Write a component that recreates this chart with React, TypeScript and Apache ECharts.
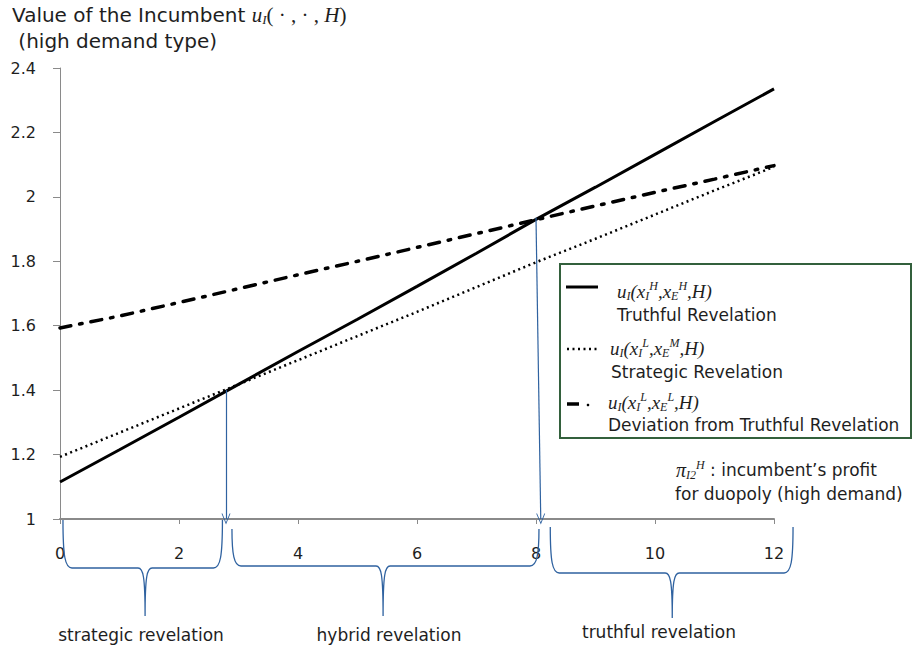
import React, { useEffect, useRef } from "react";
import * as echarts from "echarts";

// ---- data ----
const xValues = [0, 1, 2, 3, 4, 5, 6, 7, 8, 9, 10, 11, 12];
const truthful = [1.115, 1.215, 1.316, 1.418, 1.52, 1.62, 1.722, 1.825, 1.93, 2.03, 2.132, 2.234, 2.335];
const strategic = [1.193, 1.268, 1.343, 1.418, 1.493, 1.568, 1.643, 1.72, 1.797, 1.87, 1.945, 2.02, 2.093];
const deviation = [1.593, 1.63, 1.672, 1.715, 1.758, 1.8, 1.843, 1.886, 1.929, 1.972, 2.014, 2.055, 2.097];

const xTicks = { min: 0, max: 12, interval: 2 };
const yTicks = { min: 1, max: 2.4, interval: 0.2 };

// arrows: from intersection points down to the axis
const arrowTop = [[2.79, 1.4], [8.0, 1.935]];
const arrowBottom = [[2.79, 1.0], [8.08, 1.0]];

// braces below the x axis (x-range in axis units)
const braceStart = [0.05, 2.89, 8.24];
const braceEnd = [2.73, 8.05, 12.32];
const braceMid = [1.43, 5.43, 10.29];
const braceLabels = ["strategic revelation", "hybrid revelation", "truthful revelation"];

// ---- styling ----
const SANS = "'DejaVu Sans', 'Open Sans', sans-serif";
const SERIF = "'Liberation Serif', 'DejaVu Serif', serif";
const TXT = "#1e1e1e";
const AXIS = "#8a8a8a";
const BLUE = "#2f62a0";
const GREEN = "#33603c";

// pixel offsets (below axis line) for braces: top end, horizontal bar, tip
const braceTopOff = [1, 10, 8];
const braceBarOff = [49, 47, 54];
const braceTipOff = [97, 97, 99];
const braceLabelPos = [[141, 635], [389, 635], [659, 632]];

function mathRich(main: number, small: number) {
  const lh = 22;
  const slh = 11;
  return {
    m: { fontFamily: SERIF, fontStyle: "italic", fontSize: main, lineHeight: lh, fill: TXT },
    r: { fontFamily: SERIF, fontSize: main, lineHeight: lh, fill: TXT },
    sb: { fontFamily: SERIF, fontStyle: "italic", fontSize: small, lineHeight: slh, verticalAlign: "bottom", fill: TXT },
    sp: { fontFamily: SERIF, fontStyle: "italic", fontSize: small, lineHeight: slh, verticalAlign: "top", fill: TXT },
    n: { fontFamily: SANS, fontSize: 17, lineHeight: lh, fill: TXT },
    t: { fontFamily: SANS, fontSize: 20, lineHeight: lh, fill: TXT },
  };
}

function txt(x: number, y: number, text: string, size = 17, align = "left") {
  return {
    type: "text",
    x,
    y,
    silent: true,
    style: { text, fontFamily: SANS, fontSize: size, fill: TXT, align, verticalAlign: "middle" },
  };
}

function rtxt(x: number, y: number, text: string, main = 19, small = 12) {
  return {
    type: "text",
    x,
    y,
    silent: true,
    style: { text, rich: mathRich(main, small), align: "left", verticalAlign: "middle" },
  };
}

export default function App() {
  const ref = useRef<HTMLDivElement>(null);

  useEffect(() => {
    if (!ref.current) return;
    const chart = echarts.init(ref.current, null, { renderer: "svg" });

    const pts = (ys: number[]) => xValues.map((x, i) => [x, ys[i]]);
    const braceData = braceStart.map((s, i) => [s, braceEnd[i], braceMid[i]]);

    const arrowHead = "path://M5,0 L10,10 L9,10 L5,2 L1,10 L0,10 Z";

    const option: any = {
      animation: false,
      grid: { left: 60, right: 141, top: 68, bottom: 133 },
      xAxis: {
        type: "value",
        min: xTicks.min,
        max: xTicks.max,
        interval: xTicks.interval,
        axisLine: { show: true, onZero: false, lineStyle: { color: AXIS, width: 2 } },
        axisTick: { show: true, length: 5, lineStyle: { color: AXIS, width: 1 } },
        axisLabel: { margin: 26, fontSize: 16, color: TXT, fontFamily: SANS },
        splitLine: { show: false },
      },
      yAxis: {
        type: "value",
        min: yTicks.min,
        max: yTicks.max,
        interval: yTicks.interval,
        axisLine: { show: true, lineStyle: { color: AXIS, width: 1 } },
        axisTick: { show: true, length: 7, lineStyle: { color: AXIS, width: 1 } },
        axisLabel: { margin: 24, fontSize: 16, color: TXT, fontFamily: SANS },
        splitLine: { show: false },
      },
      series: [
        {
          name: "Deviation",
          type: "line",
          data: pts(deviation),
          showSymbol: false,
          symbol: "none",
          lineStyle: { color: "#000", width: 3.5, type: [11, 9, 2.5, 9], cap: "round" },
          silent: true,
          z: 3,
        },
        {
          name: "Strategic",
          type: "line",
          data: pts(strategic),
          showSymbol: false,
          symbol: "none",
          lineStyle: { color: "#000", width: 2.5, type: [2, 3.5] },
          silent: true,
          z: 3,
        },
        {
          name: "Truthful",
          type: "line",
          data: pts(truthful),
          showSymbol: false,
          symbol: "none",
          lineStyle: { color: "#000", width: 3 },
          silent: true,
          z: 4,
          markLine: {
            silent: true,
            animation: false,
            symbol: ["none", arrowHead],
            symbolSize: [9, 11],
            label: { show: false },
            emphasis: { disabled: true },
            lineStyle: { color: BLUE, width: 1.2, type: "solid" },
            data: arrowTop.map((t, i) => [{ coord: t }, { coord: arrowBottom[i] }]),
          },
        },
        {
          name: "braces",
          type: "custom",
          coordinateSystem: "cartesian2d",
          clip: false,
          silent: true,
          data: braceData,
          encode: { x: [0, 1, 2], y: -1 },
          renderItem: (params: any, api: any) => {
            const i = params.dataIndex;
            const base = api.coord([0, yTicks.min])[1];
            const x1 = api.coord([api.value(0), yTicks.min])[0];
            const x2 = api.coord([api.value(1), yTicks.min])[0];
            const xm = api.coord([api.value(2), yTicks.min])[0];
            const y0 = base + braceTopOff[i];
            const y1 = base + braceBarOff[i];
            const y2 = base + braceTipOff[i];
            const r = 9;
            const c = 7;
            const d =
              `M${x1},${y0} C${x1},${y1 - 12} ${x1 + 2},${y1} ${x1 + r},${y1} ` +
              `L${xm - c},${y1} C${xm - 2},${y1} ${xm},${y1 + 8} ${xm},${y2} ` +
              `M${xm},${y2} C${xm},${y1 + 8} ${xm + 2},${y1} ${xm + c},${y1} ` +
              `L${x2 - r},${y1} C${x2 - 2},${y1} ${x2},${y1 - 12} ${x2},${y0}`;
            return {
              type: "path",
              shape: { pathData: d },
              style: { stroke: BLUE, fill: "none", lineWidth: 1.3 },
            };
          },
          z: 2,
        },
      ],
      graphic: [
        // title
        rtxt(12, 15, "{t|Value of the Incumbent }{m|u}{sb|I}{r|( · , · , }{m|H}{r|)}", 21, 13),
        txt(12, 41, " (high demand type)", 20),
        // legend box
        {
          type: "rect",
          silent: true,
          shape: { x: 560, y: 264, width: 351, height: 174 },
          style: { fill: "#fff", stroke: GREEN, lineWidth: 2 },
          z: 10,
        },
        {
          type: "line",
          silent: true,
          z: 11,
          shape: { x1: 566, y1: 287, x2: 598, y2: 287 },
          style: { stroke: "#000", lineWidth: 3 },
        },
        {
          type: "line",
          silent: true,
          z: 11,
          shape: { x1: 567, y1: 349, x2: 597, y2: 349 },
          style: { stroke: "#000", lineWidth: 2.5, lineDash: [2, 3.5] },
        },
        {
          type: "line",
          silent: true,
          z: 11,
          shape: { x1: 567, y1: 404, x2: 579, y2: 404 },
          style: { stroke: "#000", lineWidth: 3.5 },
        },
        {
          type: "circle",
          silent: true,
          z: 11,
          shape: { cx: 588, cy: 405, r: 1.3 },
          style: { fill: "#000" },
        },
        { ...rtxt(617, 291, "{m|u}{sb|I}{m|(x}{sb|I}{sp|H}{m|,x}{sb|E}{sp|H}{m|,H)}"), z: 11 },
        { ...txt(617, 315, "Truthful Revelation"), z: 11 },
        { ...rtxt(610, 348, "{m|u}{sb|I}{m|(x}{sb|I}{sp|L}{m|,x}{sb|E}{sp|M}{m|,H)}"), z: 11 },
        { ...txt(611, 372, "Strategic Revelation"), z: 11 },
        { ...rtxt(608, 402, "{m|u}{sb|I}{m|(x}{sb|I}{sp|L}{m|,x}{sb|E}{sp|L}{m|,H)}"), z: 11 },
        { ...txt(608, 425, "Deviation from Truthful Revelation"), z: 11 },
        // profit annotation
        rtxt(676, 470, "{m|π}{sb|I2}{sp|H}{n| : incumbent’s profit}", 20, 12),
        txt(675, 494, "for duopoly (high demand)"),
        // brace labels
        ...braceLabels.map((t, i) => txt(braceLabelPos[i][0], braceLabelPos[i][1], t, 17, "center")),
      ],
    };

    chart.setOption(option);
    return () => chart.dispose();
  }, []);

  return (
    <div
      ref={ref}
      style={{ position: "fixed", left: 0, top: 0, width: 915, height: 652, background: "#fff" }}
    />
  );
}
